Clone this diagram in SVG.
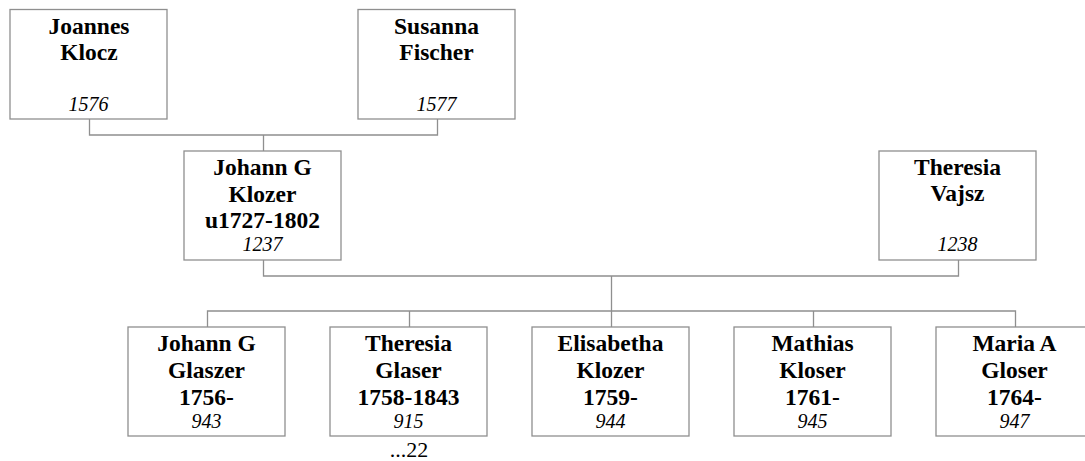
<svg xmlns="http://www.w3.org/2000/svg" width="1085" height="461" viewBox="0 0 1085 461">
<style>
  .box { fill: #ffffff; stroke: #8f8f8f; stroke-width: 1.3; }
  .conn { fill: none; stroke: #8f8f8f; stroke-width: 1.3; }
  .name { font-family: "Liberation Serif", "Times New Roman", serif; font-weight: bold; font-size: 23.5px; text-anchor: middle; fill: #000; }
  .id { font-family: "Liberation Serif", "Times New Roman", serif; font-style: italic; font-size: 20px; text-anchor: middle; fill: #000; }
  .more { font-family: "Liberation Serif", "Times New Roman", serif; font-size: 22px; text-anchor: middle; fill: #000; }
</style>
<rect width="1085" height="461" fill="#ffffff"/>
<g id="connectors">
  <path class="conn" d="M89.5 119 V135 H437.5 V119"/>
  <path class="conn" d="M263.5 135 V151"/>
  <path class="conn" d="M263.5 260 V276 H958.5 V260"/>
  <path class="conn" d="M611.5 276 V311"/>
  <path class="conn" d="M207.5 327 V311 H1015.5 V327"/>
  <path class="conn" d="M409.5 311 V327"/>
  <path class="conn" d="M611.5 311 V327"/>
  <path class="conn" d="M813.5 311 V327"/>
</g>
<g id="joannes-klocz">
  <rect class="box" x="10" y="9.5" width="157" height="109.5"/>
  <text class="name" x="89" y="34">Joannes</text>
  <text class="name" x="89" y="60">Klocz</text>
  <text class="id" x="88.5" y="111">1576</text>
</g>
<g id="susanna-fischer">
  <rect class="box" x="358" y="9.5" width="157" height="109.5"/>
  <text class="name" x="436.5" y="34">Susanna</text>
  <text class="name" x="436.5" y="60">Fischer</text>
  <text class="id" x="436.5" y="111">1577</text>
</g>
<g id="johann-g-klozer">
  <rect class="box" x="184" y="151" width="157" height="109"/>
  <text class="name" x="262.5" y="175">Johann G</text>
  <text class="name" x="262.5" y="202">Klozer</text>
  <text class="name" x="262.5" y="228">u1727-1802</text>
  <text class="id" x="262.5" y="251">1237</text>
</g>
<g id="theresia-vajsz">
  <rect class="box" x="879" y="151" width="157" height="109"/>
  <text class="name" x="957.5" y="175">Theresia</text>
  <text class="name" x="957.5" y="201">Vajsz</text>
  <text class="id" x="957.5" y="251">1238</text>
</g>
<g id="johann-g-glaszer">
  <rect class="box" x="128" y="327" width="157" height="109"/>
  <text class="name" x="206.5" y="351">Johann G</text>
  <text class="name" x="206.5" y="378">Glaszer</text>
  <text class="name" x="206.5" y="405">1756-</text>
  <text class="id" x="206.5" y="428">943</text>
</g>
<g id="theresia-glaser">
  <rect class="box" x="330" y="327" width="157" height="109"/>
  <text class="name" x="408.5" y="351">Theresia</text>
  <text class="name" x="408.5" y="378">Glaser</text>
  <text class="name" x="408.5" y="405">1758-1843</text>
  <text class="id" x="408.5" y="428">915</text>
  <text class="more" x="409" y="457">...22</text>
</g>
<g id="elisabetha-klozer">
  <rect class="box" x="532" y="327" width="157" height="109"/>
  <text class="name" x="610.5" y="351">Elisabetha</text>
  <text class="name" x="610.5" y="378">Klozer</text>
  <text class="name" x="610.5" y="405">1759-</text>
  <text class="id" x="610.5" y="428">944</text>
</g>
<g id="mathias-kloser">
  <rect class="box" x="734" y="327" width="157" height="109"/>
  <text class="name" x="812.5" y="351">Mathias</text>
  <text class="name" x="812.5" y="378">Kloser</text>
  <text class="name" x="812.5" y="405">1761-</text>
  <text class="id" x="812.5" y="428">945</text>
</g>
<g id="maria-a-gloser">
  <rect class="box" x="936" y="327" width="157" height="109"/>
  <text class="name" x="1014.5" y="351">Maria A</text>
  <text class="name" x="1014.5" y="378">Gloser</text>
  <text class="name" x="1014.5" y="405">1764-</text>
  <text class="id" x="1014.5" y="428">947</text>
</g>
</svg>
